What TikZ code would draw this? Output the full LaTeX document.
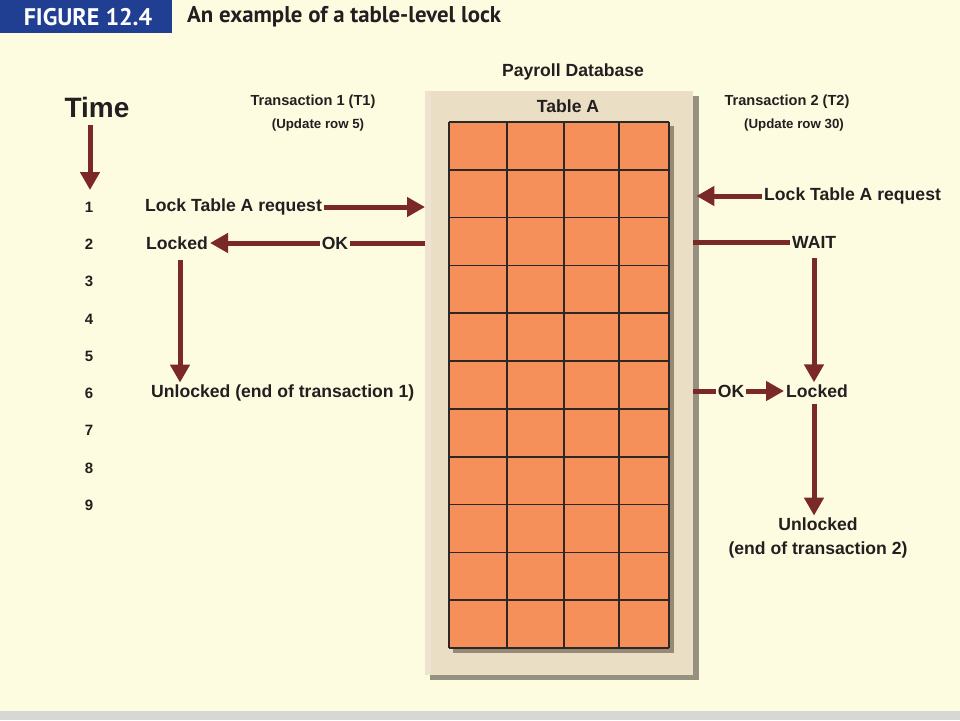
\documentclass[tikz,border=0pt]{standalone}
\usepackage{fontspec}
\setmainfont{Liberation Sans}
\newfontfamily\headfont{PT Sans}
\usetikzlibrary{arrows.meta}
\definecolor{cream}{RGB}{254,252,224}
\definecolor{beige}{RGB}{234,222,196}
\definecolor{beigeshadow}{RGB}{150,144,128}
\definecolor{gridshadow}{RGB}{150,138,118}
\definecolor{cellc}{RGB}{245,144,90}
\definecolor{gridline}{RGB}{45,40,38}
\definecolor{arrc}{RGB}{122,40,40}
\definecolor{txt}{RGB}{35,31,32}
\definecolor{headblue}{RGB}{33,63,146}
\definecolor{bottomgray}{RGB}{215,215,212}
\tikzset{
  lbl/.style={font=\bfseries\fontsize{17.6}{20}\selectfont, text=txt, inner sep=2pt},
  small/.style={font=\bfseries\fontsize{13.3}{15}\selectfont, text=txt, inner sep=1pt},
  num/.style={font=\bfseries\fontsize{15}{17}\selectfont, text=txt, inner sep=1pt},
  arr/.style={draw=arrc, line width=5pt, -{Triangle[length=18pt,width=19pt]}},
  shaft/.style={draw=arrc, line width=5pt},
}
\begin{document}
\begin{tikzpicture}[x=1pt,y=-1pt]
\useasboundingbox (0,0) rectangle (960,720);
% background
\fill[cream] (0,0) rectangle (960,720);
\fill[bottomgray] (0,711) rectangle (960,720);
% header
\fill[headblue] (0,0) rectangle (172,33);
\node[font=\headfont\bfseries\fontsize{24}{26}\selectfont, text=white] (fig) at (88,17) {FIGURE 12.4};
\node[font=\headfont\bfseries\fontsize{22.8}{25}\selectfont, text=txt, anchor=west, inner sep=0pt] (title) at (187,17) {An example of a table-level lock};
% database box
\node[lbl] (payroll) at (573,72) {Payroll Database};
\fill[beigeshadow] (430,96) rectangle (699,680);
\node[fill=beige, minimum width=268pt, minimum height=584pt, anchor=north west, inner sep=0pt] (db) at (425,91) {};
\fill[white, opacity=0.18] (425,91) rectangle (431,675);
\node[lbl] (tableA) at (568,106) {Table A};
% grid
\fill[gridshadow] (453,126) rectangle (674,653);
\fill[cellc] (449,122) rectangle (669,648);
\foreach \gx in {449,507,564,619,669}
  \draw[gridline, line width=1.6pt] (\gx,122) -- (\gx,648);
\foreach \r in {0,...,11}
  \draw[gridline, line width=1.6pt] (449,{122+47.82*\r}) -- (669,{122+47.82*\r});
% time column
\node[font=\bfseries\fontsize{28}{30}\selectfont, text=txt] (time) at (97,107) {Time};
\coordinate (tend) at (90,190);
\draw[arr] (time.south -| tend) ++(0,4) -- (tend);
\foreach \i in {1,...,9}
  \node[num] (t\i) at (89,{207+37.3*(\i-1)}) {\i};
% transaction 1
\node[font=\bfseries\fontsize{14.6}{17}\selectfont, text=txt] (tr1) at (313,102) {Transaction 1 (T1)};
\node[small] (up1) at (318,125) {(Update row 5)};
\node[lbl, anchor=west] (req1) at (143,207) {Lock Table A request};
\draw[arr] (req1.east) -- (db.west |- req1.east);
\node[lbl, anchor=west] (locked1) at (144,243) {Locked};
\node[lbl] (ok1) at (335,243) {OK};
\draw[shaft] (db.west |- ok1.east) -- (ok1.east);
\draw[arr] (ok1.west) -- (locked1.east);
\node[lbl, anchor=west] (unl1) at (149,393) {Unlocked (end of transaction 1)};
\coordinate (v1) at (180,260);
\draw[arr] (v1) -- (v1 |- unl1.north) ;
% transaction 2
\node[font=\bfseries\fontsize{14.6}{17}\selectfont, text=txt] (tr2) at (787,102) {Transaction 2 (T2)};
\node[small] (up2) at (794,125) {(Update row 30)};
\node[lbl, anchor=west] (req2) at (762,196) {Lock Table A request};
\draw[arr] (req2.west) -- ([xshift=3pt]db.east |- req2.west);
\node[lbl, anchor=west] (wait) at (790,242) {WAIT};
\draw[shaft] (db.east |- wait.west) -- (wait.west);
\node[lbl, anchor=west] (locked2) at (784,391) {Locked};
\node[lbl] (ok2) at (731,391) {OK};
\draw[shaft] (db.east |- ok2.west) -- (ok2.west);
\draw[arr] (ok2.east) -- (locked2.west);
\coordinate (v2) at (814,258);
\draw[arr] (v2) -- (v2 |- locked2.north);
\node[lbl, align=center, font=\bfseries\fontsize{17.6}{24}\selectfont] (unl2) at (818,538) {Unlocked\\(end of transaction 2)};
\draw[arr] (v2 |- locked2.south) ++(0,4) -- (v2 |- unl2.north);
\end{tikzpicture}
\end{document}
